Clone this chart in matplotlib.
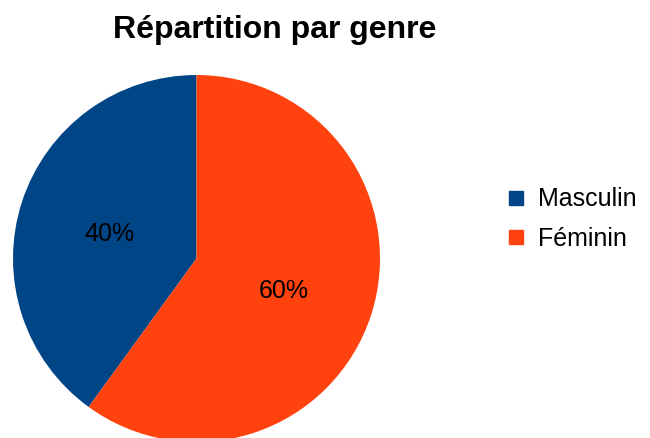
import matplotlib.pyplot as plt
from matplotlib.lines import Line2D

plt.rcParams['font.family'] = ['Liberation Sans', 'DejaVu Sans']

labels = ["Masculin", "Féminin"]
shares = [40, 60]
colors = ["#004586", "#ff420e"]
title = "Répartition par genre"

W, H = 650, 438
fig = plt.figure(figsize=(W / 100, H / 100), dpi=100)

# pie centre (196.5, 258.5) px, radius 183.5 px
cx, cy, r = 196.5, 258.5, 183.5
pad = 1.02
side = 2 * r * pad
ax = fig.add_axes([(cx - side / 2) / W, (H - cy - side / 2) / H, side / W, side / H])
wedges, texts, autotexts = ax.pie(shares, colors=colors, startangle=90,
                                  autopct="%d%%", pctdistance=0.5,
                                  wedgeprops={"linewidth": 0})
for t in autotexts:
    t.set_fontsize(18)
    t.set_color("black")
    # labels sit a little lower in the original
    x, y = t.get_position()
    t.set_position((x, y - 4 / r))
ax.set_xlim(-pad, pad)
ax.set_ylim(-pad, pad)
ax.set_aspect("equal")
ax.axis("off")

fig.text(275 / W, 1 - 30 / H, title, ha="center", va="center",
         fontsize=23, fontweight="bold")

handles = [Line2D([], [], marker="s", linestyle="", markersize=9.5,
                  color=c) for c in colors]
fig.legend(handles, labels, loc="center left",
           bbox_to_anchor=(506 / W, 1 - 219 / H), frameon=False,
           fontsize=18, handlelength=0.8, handletextpad=0.5,
           labelspacing=0.62, borderaxespad=0, borderpad=0)

fig.savefig("out.png", dpi=100)
